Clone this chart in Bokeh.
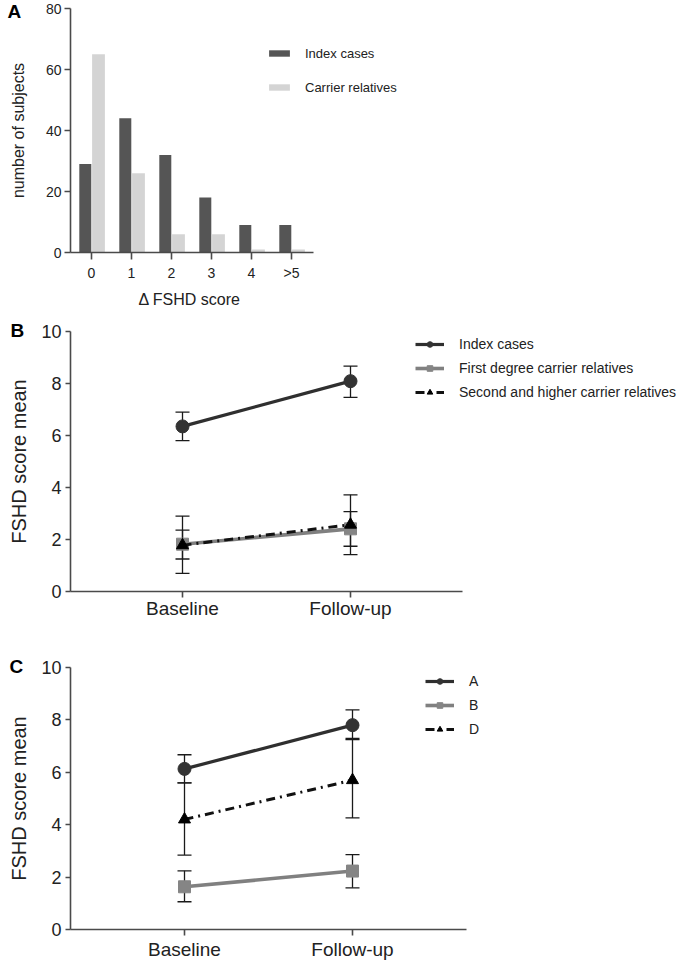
from bokeh.plotting import figure
from bokeh.models import Legend, LegendItem, FixedTicker, Range1d, ColumnDataSource, Title
from bokeh.layouts import column
from bokeh.embed import file_html
from bokeh.resources import INLINE

# ---------------- data ----------------
# Panel A: distribution of change in FSHD score
a_categories = ["0", "1", "2", "3", "4", ">5"]
a_index_cases = [29, 44, 32, 18, 9, 9]
a_carrier_relatives = [65, 26, 6, 6, 1, 1]

# Panels B and C: mean FSHD score at two time points (with error bars)
time_points = ["Baseline", "Follow-up"]

b_names = ["Index cases", "First degree carrier relatives", "Second and higher carrier relatives"]
b_index_mean = [6.35, 8.09]
b_index_low = [5.80, 7.47]
b_index_high = [6.90, 8.67]
b_first_mean = [1.82, 2.41]
b_first_low = [1.25, 1.74]
b_first_high = [2.36, 3.07]
b_second_mean = [1.78, 2.57]
b_second_low = [0.70, 1.42]
b_second_high = [2.90, 3.72]

c_names = ["A", "B", "D"]
c_a_mean = [6.13, 7.80]
c_a_low = [5.60, 7.25]
c_a_high = [6.67, 8.38]
c_b_mean = [1.63, 2.23]
c_b_low = [1.06, 1.59]
c_b_high = [2.24, 2.86]
c_d_mean = [4.20, 5.70]
c_d_low = [2.84, 4.26]
c_d_high = [5.60, 7.29]

FONT = "Liberation Sans"
AXIS_COLOR = "#4a4a4a"
TEXT_COLOR = "#222222"
W = 685


def style_axes(p, tick_size, label_size):
    p.outline_line_color = None
    p.xgrid.grid_line_color = None
    p.ygrid.grid_line_color = None
    for ax in (p.xaxis[0], p.yaxis[0]):
        ax.axis_line_color = AXIS_COLOR
        ax.axis_line_width = 1.6
        ax.major_tick_line_color = AXIS_COLOR
        ax.major_tick_line_width = 1.6
        ax.major_tick_in = 0
        ax.minor_tick_line_color = None
        ax.major_label_text_font = FONT
        ax.major_label_text_font_size = f"{tick_size}px"
        ax.major_label_text_color = TEXT_COLOR
        ax.axis_label_text_font = FONT
        ax.axis_label_text_font_style = "normal"
        ax.axis_label_text_font_size = f"{label_size}px"
        ax.axis_label_text_color = TEXT_COLOR


def add_letter(p, letter, offset, standoff, drop):
    # leading empty line with a small line height nudges the letter downwards
    p.add_layout(Title(text="\n" + letter, align="left", vertical_align="top", offset=offset,
                       standoff=standoff, text_font=FONT, text_font_style="bold",
                       text_font_size="19px", text_line_height=drop,
                       text_color="#000000"), "above")


# ---------------- Panel A ----------------
a_left = 70          # x of y axis
a_top = 8            # y of frame top
a_frame_h = 252 - a_top
a_frame_w = W - a_left
a_px = 40.0          # pixels per category
a_x0 = -0.525
a_x_axis_end = 5.55
pA = figure(width=W, height=315, output_backend="svg", toolbar_location=None,
            x_range=Range1d(a_x0, a_x0 + a_frame_w / a_px), y_range=Range1d(0, 80),
            min_border_left=a_left, min_border_right=0,
            min_border_top=a_top, min_border_bottom=315 - 252)
pA.frame_width = a_frame_w
pA.frame_height = a_frame_h

xs = list(range(len(a_categories)))
srcA = ColumnDataSource(dict(
    x_idx=[i - 0.155 for i in xs],
    x_car=[i + 0.175 for i in xs],
    idx=a_index_cases,
    car=a_carrier_relatives,
))
r_idx = pA.vbar(x="x_idx", top="idx", bottom=0, width=0.3, source=srcA,
                fill_color="#555555", line_color=None)
r_car = pA.vbar(x="x_car", top="car", bottom=0, width=0.32, source=srcA,
                fill_color="#d4d4d4", line_color=None)

style_axes(pA, 14, 16)
pA.xaxis.bounds = (a_x0, a_x_axis_end)
pA.xaxis.ticker = FixedTicker(ticks=xs)
pA.xaxis.major_label_overrides = {i: c for i, c in enumerate(a_categories)}
pA.xaxis.major_tick_out = 7
pA.xaxis.major_label_standoff = 5
pA.yaxis.ticker = FixedTicker(ticks=[0, 20, 40, 60, 80])
pA.yaxis.major_tick_out = 6
pA.yaxis.major_label_standoff = 3
pA.yaxis.axis_label = "number of subjects"
pA.yaxis.axis_label_standoff = 16

# x-axis title placed under the (short) axis, as a below-title
pA.add_layout(Title(text="\u0394 FSHD score", align="left", vertical_align="bottom",
                    offset=68, standoff=11, text_font=FONT, text_font_style="normal",
                    text_font_size="16px", text_color=TEXT_COLOR), "below")

legA = Legend(items=[LegendItem(label="Index cases", renderers=[r_idx]),
                     LegendItem(label="Carrier relatives", renderers=[r_car])],
              location=(196, 155), orientation="vertical")
legA.glyph_width = 26
legA.glyph_height = 8
legA.label_standoff = 13
legA.label_height = 20
legA.spacing = 14
legA.padding = 0
legA.margin = 0
legA.border_line_color = None
legA.background_fill_alpha = 0
legA.label_text_font = FONT
legA.label_text_font_size = "13px"
legA.label_text_color = TEXT_COLOR
pA.add_layout(legA, "center")

add_letter(pA, "A", offset=7 - a_left, standoff=-32, drop=0.42)


# ---------------- Panels B and C ----------------
def line_panel(series, height, border_top, border_bottom, frame_h, x_left, x_right_axis,
               x_label_standoff, letter, letter_offset, letter_drop,
               legend_loc, legend_spacing):
    left = 68
    frame_w = W - left
    px = 168.0  # pixels per x unit
    p = figure(width=W, height=height, output_backend="svg", toolbar_location=None,
               x_range=Range1d(x_left, x_left + frame_w / px), y_range=Range1d(0, 10),
               min_border_left=left, min_border_right=0,
               min_border_top=border_top, min_border_bottom=border_bottom)
    p.frame_width = frame_w
    p.frame_height = frame_h
    cap = 7 / px
    xpos = [1, 2]
    items = []
    for (name, mean, low, high, color, marker, msize, dash, lw, mcolor) in series:
        # error bars
        p.segment(x0=xpos, y0=low, x1=xpos, y1=high, line_color="#1a1a1a", line_width=1.3)
        p.segment(x0=[x - cap for x in xpos], y0=high, x1=[x + cap for x in xpos], y1=high,
                  line_color="#1a1a1a", line_width=1.3)
        p.segment(x0=[x - cap for x in xpos], y0=low, x1=[x + cap for x in xpos], y1=low,
                  line_color="#1a1a1a", line_width=1.3)
    for (name, mean, low, high, color, marker, msize, dash, lw, mcolor) in series:
        rl = p.line(x=xpos, y=mean, line_color=color, line_width=lw, line_dash=dash)
        rm = p.scatter(x=xpos, y=mean, marker=marker, size=msize,
                       fill_color=mcolor, line_color=mcolor)
        items.append((name, rl, rm))
    style_axes(p, 18, 20)
    p.xaxis.bounds = (x_left, x_right_axis)
    p.xaxis.ticker = FixedTicker(ticks=xpos)
    p.xaxis.major_label_overrides = {1: time_points[0], 2: time_points[1]}
    p.xaxis.major_tick_out = 6
    p.xaxis.major_label_text_font_size = "19px"
    p.xaxis.major_label_standoff = x_label_standoff
    p.yaxis.ticker = FixedTicker(ticks=[0, 2, 4, 6, 8, 10])
    p.yaxis.major_tick_out = 5
    p.yaxis.major_label_standoff = 4
    p.yaxis.axis_label = "FSHD score mean"
    p.yaxis.axis_label_standoff = 8

    leg = Legend(items=[LegendItem(label=n, renderers=[rl, rm]) for n, rl, rm in items],
                 location=legend_loc, orientation="vertical")
    leg.glyph_width = 29
    leg.glyph_height = 14
    leg.label_standoff = 15
    leg.label_height = 20
    leg.spacing = legend_spacing
    leg.padding = 0
    leg.margin = 0
    leg.border_line_color = None
    leg.background_fill_alpha = 0
    leg.label_text_font = FONT
    leg.label_text_font_size = "14px"
    leg.label_text_color = TEXT_COLOR
    p.add_layout(leg, "center")

    add_letter(p, letter, offset=letter_offset, standoff=-24, drop=letter_drop)
    return p


series_b = [
    (b_names[0], b_index_mean, b_index_low, b_index_high, "#2f2f2f", "circle", 13, "solid", 3.2, "#333333"),
    (b_names[1], b_first_mean, b_first_low, b_first_high, "#808080", "square", 12, "solid", 3.6, "#858585"),
    (b_names[2], b_second_mean, b_second_low, b_second_high, "#111111", "triangle", 12, "9 5 2 5", 3.0, "#000000"),
]
pB = line_panel(series_b, height=305, border_top=16, border_bottom=29, frame_h=260,
                x_left=1 - 112 / 168, x_right_axis=2.667, x_label_standoff=0,
                letter="B", letter_offset=8 - 68, letter_drop=0.6,
                legend_loc=(349, 189), legend_spacing=4)

series_c = [
    (c_names[0], c_a_mean, c_a_low, c_a_high, "#2f2f2f", "circle", 13, "solid", 3.2, "#333333"),
    (c_names[1], c_b_mean, c_b_low, c_b_high, "#808080", "square", 12, "solid", 3.6, "#858585"),
    (c_names[2], c_d_mean, c_d_low, c_d_high, "#111111", "triangle", 12, "9 5 2 5", 3.0, "#000000"),
]
pC = line_panel(series_c, height=341, border_top=46, border_bottom=33, frame_h=262,
                x_left=1 - 114 / 168, x_right_axis=2.679, x_label_standoff=3,
                letter="C", letter_offset=7 - 68, letter_drop=0.5,
                legend_loc=(359, 190), legend_spacing=4)

layout = column(pA, pB, pC, spacing=0)
open("out.html", "w").write(file_html(layout, INLINE))
